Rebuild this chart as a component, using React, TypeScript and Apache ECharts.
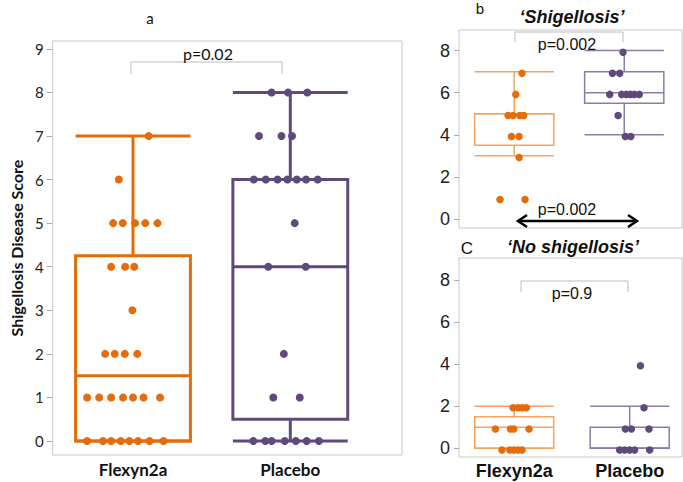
import React, { useEffect, useRef } from "react";
import * as echarts from "echarts";

const groups = ["Flexyn2a", "Placebo"];
const mainTicks = [0, 1, 2, 3, 4, 5, 6, 7, 8, 9];
const smallTicks = [0, 2, 4, 6, 8];

// box stats: [group position, min, q1, median, q3, max]
const mainBoxes = [
  [1, 0, 0, 1.5, 4.25, 7],
  [2, 0, 0.5, 4, 6, 8],
];
const shigBoxes = [
  [1, 3, 3.5, 5, 5, 7],
  [2, 4, 5.5, 6, 7, 8],
];
const noShigBoxes = [
  [1, 0, 0, 1, 1.5, 2],
  [2, 0, 0, 0, 1, 2],
];

// individual scores: [jittered group position, score]
const mainFlexyn = [
  [1.1, 7], [0.91, 6],
  [0.874, 5], [0.935, 5], [1.013, 5], [1.078, 5], [1.156, 5],
  [0.861, 4], [0.95, 4], [1.008, 4],
  [0.996, 3],
  [0.823, 2], [0.884, 2], [0.948, 2], [1.027, 2],
  [0.708, 1], [0.785, 1], [0.861, 1], [0.937, 1], [1.0, 1], [1.067, 1], [1.172, 1],
  [0.708, 0], [0.809, 0], [0.861, 0], [0.922, 0], [0.977, 0], [1.032, 0], [1.105, 0], [1.194, 0],
];
const mainPlacebo = [
  [1.881, 8], [1.986, 8], [2.108, 8],
  [1.801, 7], [1.944, 7], [2.011, 7],
  [1.768, 6], [1.844, 6], [1.919, 6], [1.982, 6], [2.041, 6], [2.1, 6], [2.174, 6],
  [2.028, 5],
  [1.86, 4], [2.098, 4],
  [1.959, 2],
  [1.892, 1], [2.06, 1],
  [1.765, 0], [1.841, 0], [1.881, 0], [1.965, 0], [2.035, 0], [2.104, 0], [2.182, 0],
];
const shigFlexyn = [
  [1.071, 6.92], [1.014, 5.92],
  [0.944, 4.92], [0.989, 4.92], [1.05, 4.92], [1.086, 4.92],
  [0.975, 3.92], [1.044, 3.92],
  [1.044, 2.92],
  [0.871, 0.92], [1.098, 0.92],
];
const shigPlacebo = [
  [1.989, 7.92],
  [1.893, 6.92], [1.959, 6.92],
  [1.868, 5.92], [1.977, 5.92], [2.018, 5.92], [2.055, 5.92], [2.091, 5.92], [2.136, 5.92],
  [1.944, 4.92],
  [2.01, 3.92], [2.06, 3.92],
];
const noShigFlexyn = [
  [0.99, 1.93], [1.033, 1.93], [1.071, 1.93], [1.106, 1.93],
  [0.837, 0.92], [0.967, 0.92], [0.996, 0.92], [1.128, 0.92],
  [0.894, -0.08], [0.961, -0.08], [0.996, -0.08], [1.033, -0.08], [1.068, -0.08],
];
const noShigPlacebo = [
  [2.093, 3.92],
  [2.124, 1.93],
  [1.963, 0.92], [2.015, 0.92], [2.167, 0.92],
  [1.913, -0.08], [1.957, -0.08], [2.0, -0.08], [2.043, -0.08], [2.173, -0.08],
];

const ORANGE = "#E46C0A";
const PURPLE = "#604A7B";
const ORANGE_LIGHT = "#F2A463";
const PURPLE_LIGHT = "#8B7DA8";

function boxRenderer(width: number, colors: string[], lw: number) {
  return (params: any, api: any) => {
    const x = api.value(0);
    const mn = api.value(1);
    const q1 = api.value(2);
    const md = api.value(3);
    const q3 = api.value(4);
    const mx = api.value(5);
    const c = colors[params.dataIndex];
    const h = width / 2;
    const tl = api.coord([x - h, q3]);
    const br = api.coord([x + h, q1]);
    const mdL = api.coord([x - h, md]);
    const mdR = api.coord([x + h, md]);
    const maxL = api.coord([x - h, mx]);
    const maxR = api.coord([x + h, mx]);
    const minL = api.coord([x - h, mn]);
    const minR = api.coord([x + h, mn]);
    const cx = api.coord([x, md])[0];
    const style = { stroke: c, lineWidth: lw, fill: "none" };
    const line = (x1: number, y1: number, x2: number, y2: number) => ({
      type: "line",
      shape: { x1, y1, x2, y2 },
      style,
    });
    return {
      type: "group",
      children: [
        line(cx, maxL[1], cx, tl[1]),
        line(cx, minL[1], cx, br[1]),
        line(maxL[0], maxL[1], maxR[0], maxR[1]),
        line(minL[0], minL[1], minR[0], minR[1]),
        {
          type: "rect",
          shape: { x: tl[0], y: tl[1], width: br[0] - tl[0], height: br[1] - tl[1] },
          style,
        },
        line(mdL[0], mdL[1], mdR[0], mdR[1]),
      ],
    };
  };
}

const MAIN_FONT = "Lato, 'Open Sans', sans-serif";
const SMALL_FONT = "'Liberation Sans', Arial, sans-serif";

function buildOption(): any {
  const gridStyle = { show: true, borderColor: "#c9c9c9", borderWidth: 1, backgroundColor: "#fff" };
  const scatter = (xi: number, data: number[][], color: string, size: number) => ({
    type: "scatter",
    xAxisIndex: xi,
    yAxisIndex: xi,
    data,
    symbolSize: size,
    itemStyle: { color, opacity: 1 },
    z: 5,
  });
  const boxes = (xi: number, data: number[][], width: number, colors: string[], lw: number) => ({
    type: "custom",
    xAxisIndex: xi,
    yAxisIndex: xi,
    data,
    encode: { x: 0, y: [1, 2, 3, 4, 5] },
    renderItem: boxRenderer(width, colors, lw),
    z: 2,
  });
  const smallY = (gi: number, min: number, max: number) => ({
    type: "value",
    gridIndex: gi,
    min,
    max,
    axisLine: { show: false },
    splitLine: { show: false },
    axisTick: { show: true, length: 5, customValues: smallTicks, lineStyle: { color: "#aaa" } },
    axisLabel: {
      customValues: smallTicks,
      fontSize: 18,
      color: "#222",
      margin: 9,
      fontFamily: SMALL_FONT,
    },
  });
  const groupLabel = (v: number) => groups[Math.round(v) - 1] ?? "";

  const text = (x: number, y: number, t: string, size: number, font: string, extra: any = {}) => ({
    type: "text",
    x,
    y,
    style: {
      text: t,
      fontSize: size,
      fontFamily: font,
      fill: "#111",
      textAlign: "center",
      textVerticalAlign: "middle",
      ...extra,
    },
    z: 10,
  });
  const bracket = (pts: number[][]) => ({
    type: "polyline",
    shape: { points: pts },
    style: { stroke: "#bdbdbd", lineWidth: 1, fill: "none" },
    z: 10,
  });

  return {
    animation: false,
    backgroundColor: "#fff",
    grid: [
      { left: 50, top: 41, width: 352, height: 414, ...gridStyle },
      { left: 459, top: 30, width: 223, height: 198, ...gridStyle },
      { left: 459, top: 258, width: 223, height: 199, ...gridStyle },
    ],
    xAxis: [
      {
        type: "value",
        gridIndex: 0,
        min: 0.489,
        max: 2.71,
        axisLine: { show: false },
        axisTick: { show: false },
        splitLine: { show: false },
        axisLabel: {
          customValues: [1, 2],
          formatter: groupLabel,
          fontSize: 17,
          fontWeight: "bold",
          color: "#111",
          margin: 6,
          fontFamily: MAIN_FONT,
        },
      },
      {
        type: "value",
        gridIndex: 1,
        min: 0.498,
        max: 2.525,
        axisLine: { show: false },
        axisTick: { show: false },
        splitLine: { show: false },
        axisLabel: { show: false },
      },
      {
        type: "value",
        gridIndex: 2,
        min: 0.522,
        max: 2.453,
        axisLine: { show: false },
        axisTick: { show: false },
        splitLine: { show: false },
        axisLabel: {
          customValues: [1, 2],
          formatter: groupLabel,
          fontSize: 18,
          fontWeight: "bold",
          color: "#111",
          margin: 5,
          fontFamily: SMALL_FONT,
        },
      },
    ],
    yAxis: [
      {
        type: "value",
        gridIndex: 0,
        min: -0.32,
        max: 9.18,
        name: "Shigellosis Disease Score",
        nameLocation: "middle",
        nameRotate: 90,
        nameGap: 26,
        nameTextStyle: { fontSize: 16, fontWeight: "bold", color: "#111", fontFamily: MAIN_FONT },
        axisLine: { show: false },
        splitLine: { show: false },
        axisTick: { show: true, length: 6, customValues: mainTicks, lineStyle: { color: "#aaa" } },
        axisLabel: {
          customValues: mainTicks,
          fontSize: 15,
          color: "#222",
          margin: 9,
          fontFamily: MAIN_FONT,
        },
      },
      smallY(1, -0.43, 8.98),
      smallY(2, -0.41, 9.04),
    ],
    series: [
      boxes(0, mainBoxes, 0.73, [ORANGE, PURPLE], 3),
      scatter(0, mainFlexyn, ORANGE, 8),
      scatter(0, mainPlacebo, PURPLE, 8),
      boxes(1, shigBoxes, 0.72, [ORANGE_LIGHT, PURPLE_LIGHT], 1.5),
      scatter(1, shigFlexyn, ORANGE, 7.5),
      scatter(1, shigPlacebo, PURPLE, 7.5),
      boxes(2, noShigBoxes, 0.684, [ORANGE_LIGHT, PURPLE_LIGHT], 1.5),
      scatter(2, noShigFlexyn, ORANGE, 7.5),
      scatter(2, noShigPlacebo, PURPLE, 7.5),
    ],
    graphic: [
      text(150, 18, "a", 15, MAIN_FONT),
      bracket([[131, 74], [131, 62], [282, 62], [282, 74]]),
      text(208, 53, "p=0.02", 16, MAIN_FONT),

      text(480, 8, "b", 15, SMALL_FONT),
      text(572, 17, "\u2018Shigellosis\u2019", 18, SMALL_FONT, { fontWeight: "bold", fontStyle: "italic" }),
      bracket([[515, 42], [515, 32], [623, 32], [623, 42]]),
      text(567, 44, "p=0.002", 16, SMALL_FONT),
      text(567, 209, "p=0.002", 16, SMALL_FONT),
      {
        type: "line",
        shape: { x1: 518, y1: 221, x2: 637, y2: 221 },
        style: { stroke: "#000", lineWidth: 2.5 },
        z: 10,
      },
      {
        type: "polyline",
        shape: { points: [[527, 215], [518, 221], [527, 227]] },
        style: { stroke: "#000", lineWidth: 2.5, fill: "none" },
        z: 10,
      },
      {
        type: "polyline",
        shape: { points: [[628, 215], [637, 221], [628, 227]] },
        style: { stroke: "#000", lineWidth: 2.5, fill: "none" },
        z: 10,
      },

      text(467, 248, "C", 17, SMALL_FONT),
      text(573, 247, "\u2018No shigellosis\u2019", 18, SMALL_FONT, { fontWeight: "bold", fontStyle: "italic" }),
      bracket([[521, 292], [521, 281], [628, 281], [628, 292]]),
      text(572, 293, "p=0.9", 16, SMALL_FONT),
    ],
  };
}

export default function App() {
  const ref = useRef<HTMLDivElement>(null);
  useEffect(() => {
    if (!ref.current) return;
    const chart = echarts.init(ref.current, null, { renderer: "svg" });
    chart.setOption(buildOption());
    return () => chart.dispose();
  }, []);
  return (
    <div
      ref={ref}
      style={{ position: "fixed", left: 0, top: 0, width: 683, height: 482, background: "#fff" }}
    />
  );
}
